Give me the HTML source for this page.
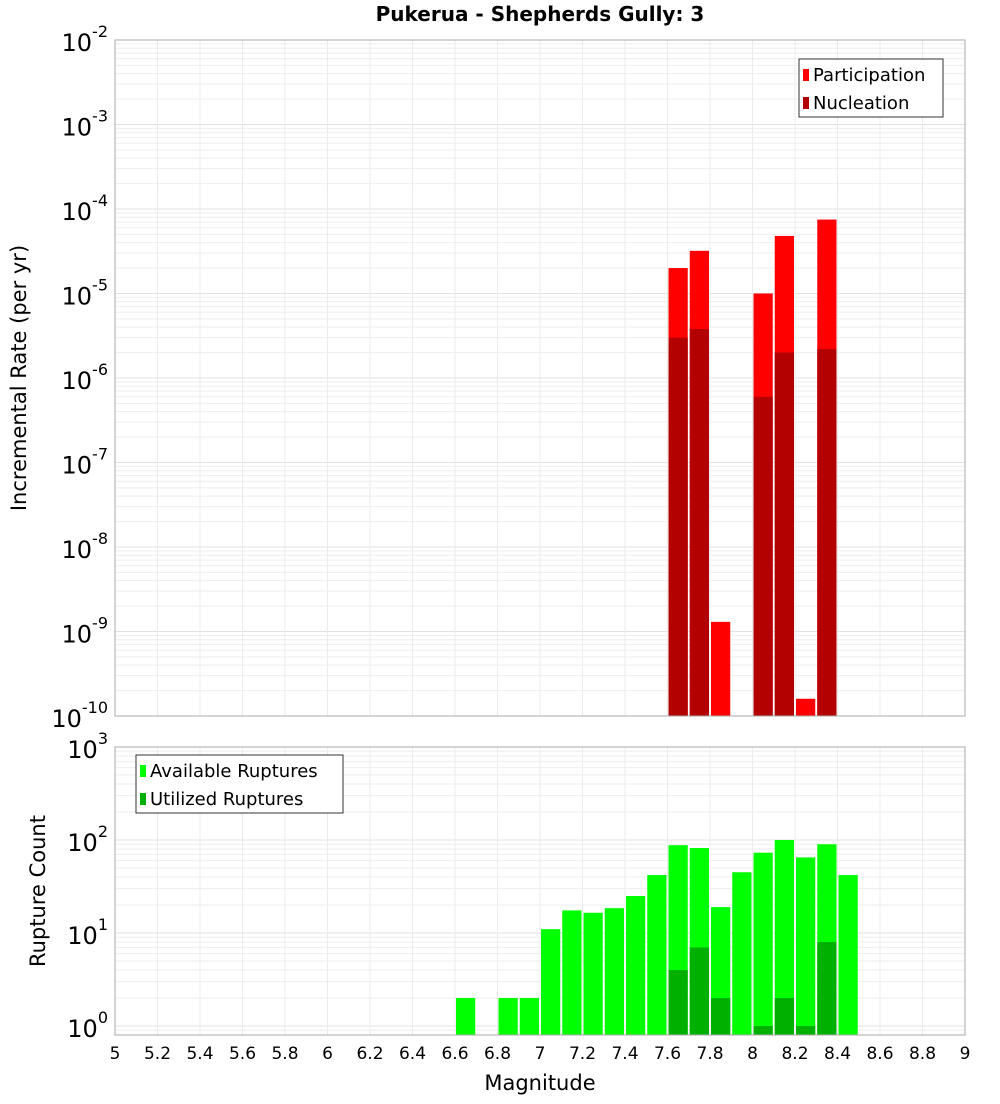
<!DOCTYPE html>
<html><head><meta charset="utf-8"><style>
body{margin:0;background:#fff;font-family:"DejaVu Sans","Liberation Sans",sans-serif}
</style></head><body>
<svg id="c" width="1000" height="1100" xmlns="http://www.w3.org/2000/svg" font-family="DejaVu Sans, Liberation Sans, sans-serif">
<text x="540" y="21" text-anchor="middle" font-size="20" font-weight="bold">Pukerua - Shepherds Gully: 3</text>
<g id="top"></g><g id="bot"></g>
<text x="540" y="1090" text-anchor="middle" font-size="21">Magnitude</text>
<text transform="translate(26,378) rotate(-90)" text-anchor="middle" font-size="21">Incremental Rate (per yr)</text>
<text transform="translate(45,891) rotate(-90)" text-anchor="middle" font-size="21">Rupture Count</text>
</svg>
<script>
const binCenters=[7.65,7.75,7.85,8.05,8.15,8.25,8.35];
const participation=[2e-5,3.2e-5,1.3e-9,1e-5,4.8e-5,1.6e-10,7.5e-5];
const nucleation=[3e-6,3.8e-6,0,6e-7,2e-6,0,2.2e-6];
const countCenters=[6.65,6.85,6.95,7.05,7.15,7.25,7.35,7.45,7.55,7.65,7.75,7.85,7.95,8.05,8.15,8.25,8.35,8.45];
const available=[2,2,2,11,17.5,16.5,18.5,25,42,88,82,19,45,73,100,65,90,42];
const utilized=[0,0,0,0,0,0,0,0,0,4,7,2,0,1,2,1,8,0];
const xTicks=[5,5.2,5.4,5.6,5.8,6,6.2,6.4,6.6,6.8,7,7.2,7.4,7.6,7.8,8,8.2,8.4,8.6,8.8,9];
const NS="http://www.w3.org/2000/svg";
const L=115,R=965;
const xs=v=>L+(v-5)/4*(R-L);
function mk(p,t,a){const e=document.createElementNS(NS,t);for(const k in a)e.setAttribute(k,a[k]);p.appendChild(e);return e;}
function panel(g,pTop,pBot,yZero,decPx,minExp,maxExp,name){
  const ys=v=>yZero-Math.log10(v)*decPx;
  const grid=mk(g,'g',{});
  
  
  for(let e=minExp-1;e<=maxExp;e++)for(let m=1;m<10;m++){const y=ys(m*Math.pow(10,e));if(y<pTop-0.5||y>pBot+0.5)continue;
    mk(grid,'line',{x1:L,x2:R,y1:y,y2:y,stroke:m==1?'#e2e2e2':'#eeeeee','stroke-width':1});}
  for(let i=0;i<xTicks.length;i++){const x=xs(xTicks[i]);mk(grid,'line',{x1:x,x2:x,y1:pTop,y2:pBot,stroke:'#ebebeb'});}
  for(let e=minExp;e<=maxExp;e++){const y=ys(Math.pow(10,e));
    const t=mk(g,'text',{x:108,y:y+11,'text-anchor':'end','font-size':24});
    
    
    t.textContent='10';const s=mk(t,'tspan',{dy:-14,'font-size':16});s.textContent=String(e);}
  return ys;
}
const gTop=document.getElementById('top'),gBot=document.getElementById('bot');
const ysT=panel(gTop,40,716,40-2*84.5,84.5,-10,-2,'top');
const ysB=panel(gBot,747,1035,1026,93,0,3,'bottom');
const bw=(R-L)/40;
function bar(g,c,v,ys,base,fill,name){if(!v)return;const y=ys(v);const r=mk(g,'rect',{x:xs(c)-bw/2+1,y:y,width:bw-2,height:base-y,fill:fill});
  
  }
binCenters.forEach((c,i)=>{bar(gTop,c,participation[i],ysT,716,'#ff0000','participation-bar');bar(gTop,c,nucleation[i],ysT,716,'#b30000','nucleation-bar');});
countCenters.forEach((c,i)=>{bar(gBot,c,available[i],ysB,1035,'#00ff00','available-bar');bar(gBot,c,utilized[i],ysB,1035,'#00b000','utilized-bar');});
mk(gTop,'rect',{x:L,y:40,width:R-L,height:676,fill:'none',stroke:'#aaa'});
mk(gBot,'rect',{x:L,y:747,width:R-L,height:288,fill:'none',stroke:'#aaa'});
xTicks.forEach(v=>{const t=mk(gBot,'text',{x:xs(v),y:1059,'text-anchor':'middle','font-size':17});
  
  
  t.textContent=String(v);});
function legend(g,x,y,w,items,name){const lg=mk(g,'g',{});
  
  
  mk(lg,'rect',{x:x,y:y,width:w,height:58,fill:'#fff',stroke:'#333'});
  items.forEach((it,i)=>{mk(lg,'rect',{x:x+4,y:y+10+i*28,width:6,height:12,fill:it[1]});
    const t=mk(lg,'text',{x:x+14,y:y+22+i*28,'font-size':18});t.textContent=it[0];});}
legend(gTop,799,59,144,[['Participation','#ff0000'],['Nucleation','#b30000']],'top-legend');
legend(gBot,136,755,207,[['Available Ruptures','#00ff00'],['Utilized Ruptures','#00b000']],'bottom-legend');
</script>
</body></html>
